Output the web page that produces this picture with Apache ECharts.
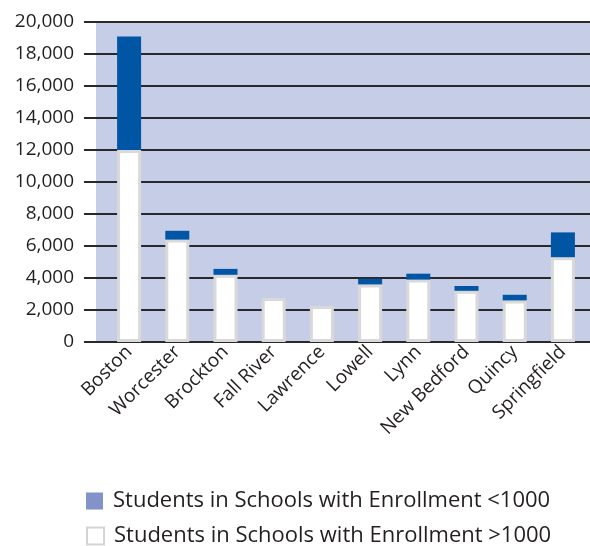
<!DOCTYPE html>
<html lang="en">
<head>
    <meta charset="UTF-8">
    <title>Enrollment</title>
    <script src="https://cdn.jsdelivr.net/npm/echarts@6/dist/echarts.min.js"></script>
    <style>
        *{
            margin: 0;
            padding: 0;
        }
        html,body{
            width: 100%;
            height: 100%;
            background: #fff;
        }
        .main{
            width: 590px;
            height: 546px;
        }
    </style>
</head>
<body>
<div class="main"></div>
<script>
    let cities = ['Boston', 'Worcester', 'Brockton', 'Fall River', 'Lawrence', 'Lowell', 'Lynn', 'New Bedford', 'Quincy', 'Springfield'];
    let large = [12000, 6400, 4200, 2750, 2250, 3600, 3900, 3200, 2600, 5300];
    let small = [7100, 550, 370, 0, 0, 350, 370, 300, 350, 1550];
    let yTicks = {min: 0, max: 20000, interval: 2000};

    let nameSmall = 'Students in Schools with Enrollment <1000';
    let nameLarge = 'Students in Schools with Enrollment >1000';
    let font = '"Open Sans", sans-serif';

    // one legend per row, stacked by hand
    function legendRow(top, item) {
        return {
            orient: 'vertical',
            left: 86,
            top: top,
            padding: 0,
            itemWidth: 17,
            itemHeight: 17,
            icon: 'rect',
            textStyle: {color: '#231f20', fontFamily: font, fontSize: 22, padding: [0, 0, 0, 5]},
            data: [item]
        };
    }

    let main = echarts.init(document.getElementsByClassName('main')[0]);
    let option = {
        animation: false,
        backgroundColor: '#fff',
        graphic: [{
            type: 'rect',
            z: -10,
            shape: {x: 96, y: 22, width: 494, height: 320},
            style: {fill: '#c6cde7'}
        }],
        grid: [
            {left: 84, right: 0, top: 22, bottom: 204},
            {left: 105, right: 3, top: 22, bottom: 204}
        ],
        xAxis: [
            {gridIndex: 0, type: 'category', data: cities, show: false},
            {
                gridIndex: 1,
                type: 'category',
                data: cities,
                axisLine: {show: false},
                axisTick: {show: false},
                axisLabel: {
                    rotate: 45,
                    margin: 7,
                    interval: 0,
                    color: '#231f20',
                    fontFamily: font,
                    fontSize: 19
                }
            }
        ],
        yAxis: [
            {
                gridIndex: 0,
                type: 'value',
                min: yTicks.min,
                max: yTicks.max,
                interval: yTicks.interval,
                axisLine: {show: false},
                axisTick: {show: false},
                axisLabel: {
                    margin: 10,
                    color: '#231f20',
                    fontFamily: font,
                    fontSize: 19,
                    formatter: v => v.toLocaleString('en-US')
                },
                splitLine: {lineStyle: {color: '#2a282b', width: 2}}
            },
            {
                gridIndex: 1,
                type: 'value',
                min: yTicks.min,
                max: yTicks.max,
                interval: yTicks.interval,
                show: false,
                splitLine: {show: false}
            }
        ],
        legend: [
            legendRow(490, {name: nameSmall, itemStyle: {color: '#8193c9', borderWidth: 0}}),
            legendRow(525, {name: nameLarge, itemStyle: {color: '#fff', borderColor: '#d4d4d4', borderWidth: 2}})
        ],
        series: [
            {
                name: nameLarge,
                type: 'bar',
                xAxisIndex: 1,
                yAxisIndex: 1,
                stack: 'total',
                barWidth: 24,
                data: large,
                itemStyle: {color: '#fff', borderColor: '#d9d9d9', borderWidth: 3}
            },
            {
                name: nameSmall,
                type: 'bar',
                xAxisIndex: 1,
                yAxisIndex: 1,
                stack: 'total',
                barWidth: 24,
                data: small,
                itemStyle: {color: '#0055a5'}
            }
        ]
    };
    main.setOption(option);
</script>
</body>
</html>
